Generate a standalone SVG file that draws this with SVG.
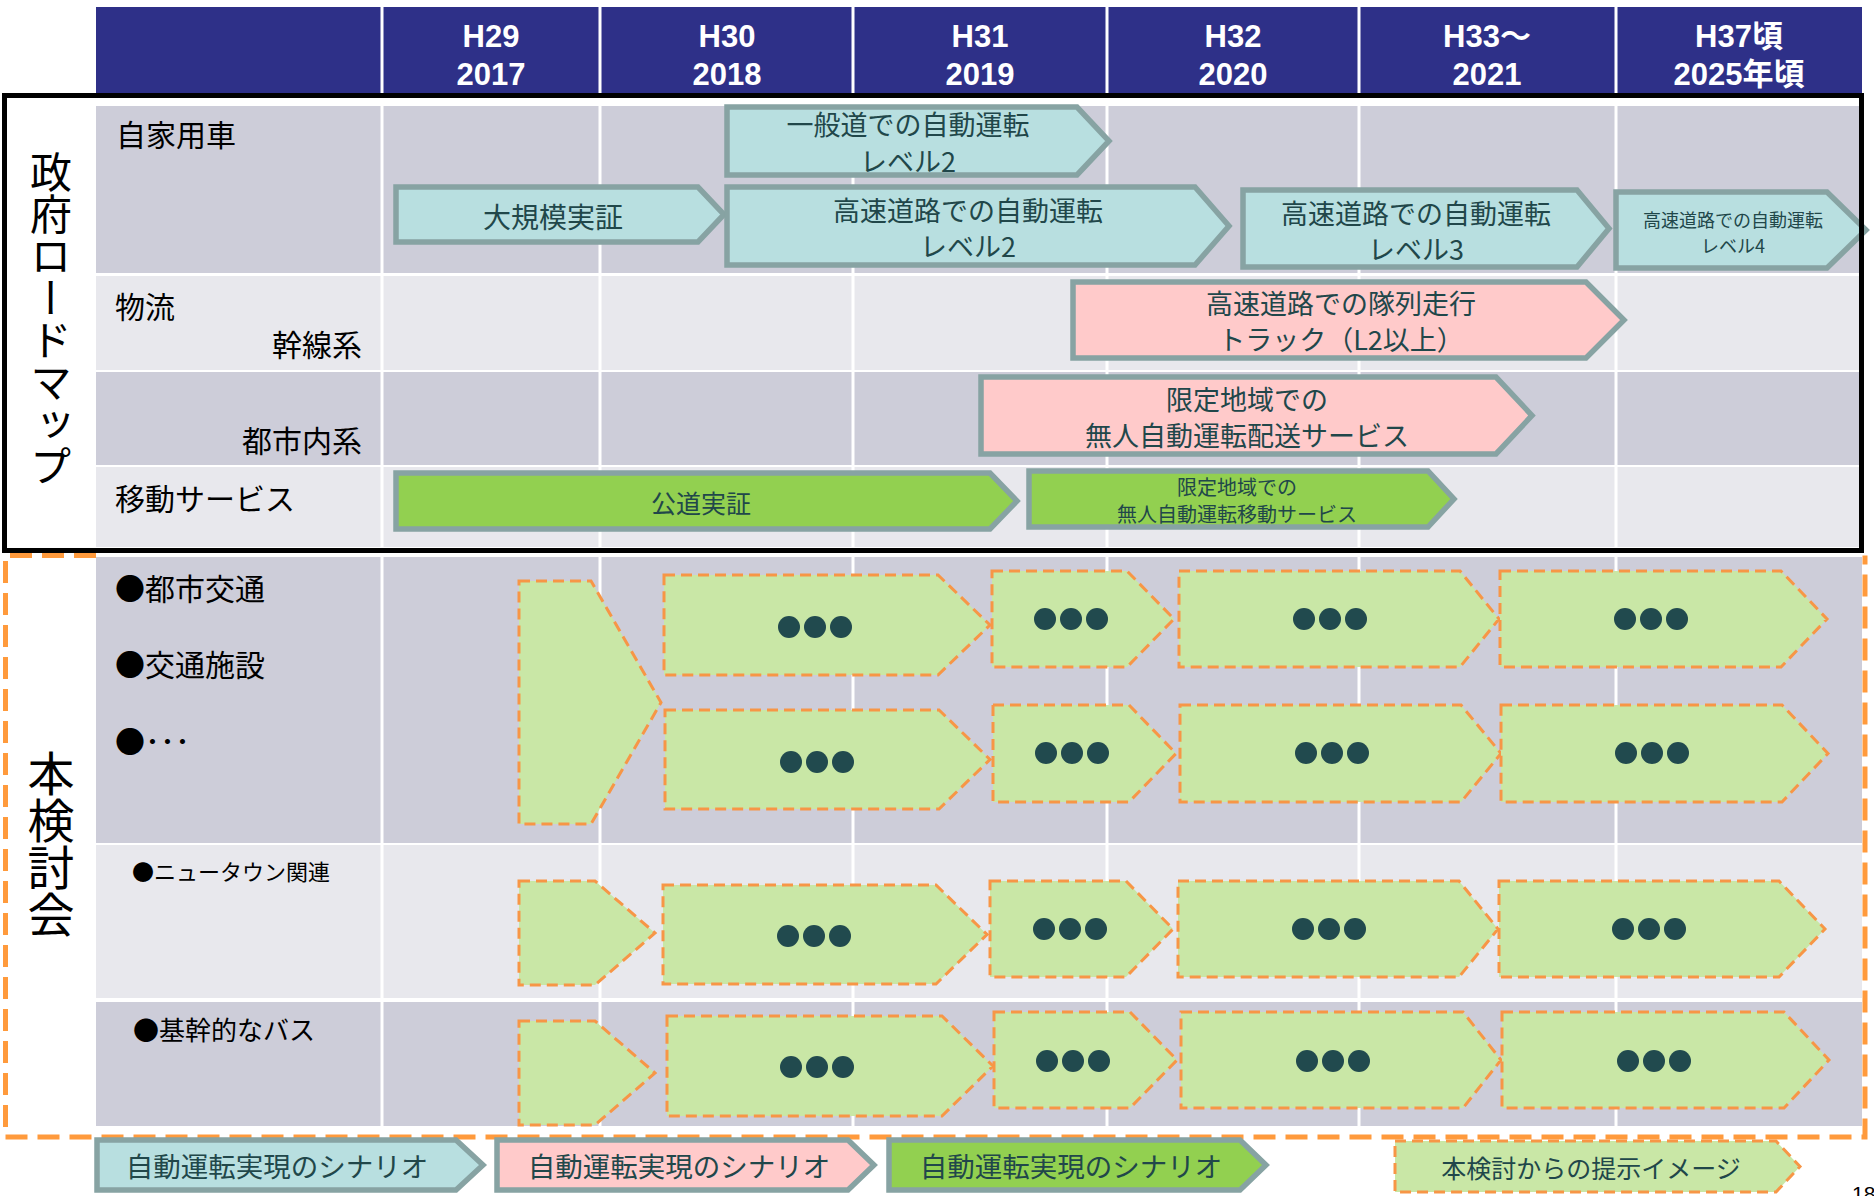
<svg xmlns="http://www.w3.org/2000/svg" width="1874" height="1196" viewBox="0 0 1874 1196">
<style>
.hdr{fill:#2e3088}
.dk{fill:#cdcdd9}
.lt{fill:#e8e8ed}
.vl{stroke:#ffffff;stroke-width:3}
.ht{font-family:"Liberation Sans","Noto Sans CJK JP",sans-serif;font-weight:bold;font-size:31px;fill:#ffffff;text-anchor:middle}
.lbl{font-family:"Noto Sans CJK JP",sans-serif;font-size:30px;fill:#000000;dominant-baseline:central}
.vt{font-family:"Noto Sans CJK JP",sans-serif;fill:#000000;writing-mode:vertical-rl;text-orientation:upright}
.blue{fill:#b8dfe0;stroke:#87a3a3;stroke-width:5.5}
.pink{fill:#ffcaca;stroke:#87a3a3;stroke-width:5.5}
.green{fill:#92d050;stroke:#87a3a3;stroke-width:5.5}
.prop{fill:#c9e7a6;stroke:#f79646;stroke-width:3;stroke-dasharray:11 6}
.at{font-family:"Noto Sans CJK JP",sans-serif;font-size:27px;fill:#21474a;text-anchor:middle;dominant-baseline:central}
.dot{fill:#214a4e}
</style>

<g id="grid">
<rect class="hdr" x="96" y="7" width="1766" height="86"/>
<rect class="dk" x="96" y="106" width="1766" height="167"/>
<rect class="lt" x="96" y="276" width="1766" height="94"/>
<rect class="dk" x="96" y="372" width="1766" height="93"/>
<rect class="lt" x="96" y="467" width="1766" height="80"/>
<rect class="dk" x="96" y="557" width="1766" height="286"/>
<rect class="lt" x="96" y="845" width="1766" height="153"/>
<rect class="dk" x="96" y="1002" width="1766" height="124"/>
<line class="vl" x1="382" y1="7" x2="382" y2="1126"/>
<line class="vl" x1="600" y1="7" x2="600" y2="1126"/>
<line class="vl" x1="853" y1="7" x2="853" y2="1126"/>
<line class="vl" x1="1107" y1="7" x2="1107" y2="1126"/>
<line class="vl" x1="1359" y1="7" x2="1359" y2="1126"/>
<line class="vl" x1="1616" y1="7" x2="1616" y2="1126"/>
</g>

<g id="header-text">
<text class="ht" x="491" y="47">H29</text><text class="ht" x="491" y="85">2017</text>
<text class="ht" x="727" y="47">H30</text><text class="ht" x="727" y="85">2018</text>
<text class="ht" x="980" y="47">H31</text><text class="ht" x="980" y="85">2019</text>
<text class="ht" x="1233" y="47">H32</text><text class="ht" x="1233" y="85">2020</text>
<text class="ht" x="1487" y="47">H33〜</text><text class="ht" x="1487" y="85">2021</text>
<text class="ht" x="1739" y="47">H37頃</text><text class="ht" x="1739" y="85">2025年頃</text>
</g>

<g id="frames">
<path d="M96,555.5 H5.5 V1137 H1865 V555.5" fill="none" stroke="#ff9a3c" stroke-width="5" stroke-dasharray="22 10"/>
</g>

<g id="row-labels">
<text class="lbl" x="116" y="133">自家用車</text>
<text class="lbl" x="115" y="305">物流</text>
<text class="lbl" x="362" y="343" text-anchor="end">幹線系</text>
<text class="lbl" x="362" y="439" text-anchor="end">都市内系</text>
<text class="lbl" x="115" y="497">移動サービス</text>
<text class="lbl" x="115" y="587">●都市交通</text>
<text class="lbl" x="115" y="663">●交通施設</text>
<text class="lbl" x="115" y="740">●･･･</text>
<text class="lbl" x="132" y="870" style="font-size:22px">●ニュータウン関連</text>
<text class="lbl" x="133" y="1028" style="font-size:26px">●基幹的なバス</text>
<text class="vt" x="51" y="151" style="font-size:42px">政府ロードマップ</text>
<text class="vt" x="51" y="750" style="font-size:47px">本検討会</text>
</g>

<g id="roadmap">
<g id="n-ippan"><polygon class="blue" points="727,107 1077,107 1109,141 1077,175 727,175"/>
<text class="at" x="908" y="123">一般道での自動運転</text><text class="at" x="908" y="160">レベル2</text></g>
<g id="n-daikibo"><polygon class="blue" points="396,187 698,187 724,214.5 698,242 396,242"/>
<text class="at" x="553" y="216" style="font-size:28px">大規模実証</text></g>
<g id="n-kosoku2"><polygon class="blue" points="727,187 1195,187 1229,226 1195,265 727,265"/>
<text class="at" x="968" y="209">高速道路での自動運転</text><text class="at" x="968" y="245">レベル2</text></g>
<g id="n-kosoku3"><polygon class="blue" points="1243,190 1577,190 1609,228.5 1577,267 1243,267"/>
<text class="at" x="1416" y="212">高速道路での自動運転</text><text class="at" x="1416" y="248">レベル3</text></g>
<g id="n-kosoku4"><polygon class="blue" points="1616,192 1827,192 1866,230 1827,268 1616,268"/>
<text class="at" x="1733" y="219" style="font-size:18px">高速道路での自動運転</text><text class="at" x="1733" y="245" style="font-size:18px">レベル4</text></g>
<g id="n-tairetsu"><polygon class="pink" points="1073,282 1586,282 1624,320 1586,358 1073,358"/>
<text class="at" x="1341" y="302">高速道路での隊列走行</text><text class="at" x="1341" y="338">トラック（L2以上）</text></g>
<g id="n-haiso"><polygon class="pink" points="981,377 1496,377 1532,415.5 1496,454 981,454"/>
<text class="at" x="1247" y="398">限定地域での</text><text class="at" x="1247" y="434">無人自動運転配送サービス</text></g>
<g id="n-kodo"><polygon class="green" points="396,473 990,473 1017,501 990,529 396,529"/>
<text class="at" x="701" y="502" style="font-size:25px">公道実証</text></g>
<g id="n-ido"><polygon class="green" points="1029,471 1428,471 1454,499 1428,527 1029,527"/>
<text class="at" x="1237" y="486" style="font-size:20px">限定地域での</text><text class="at" x="1237" y="513" style="font-size:20px">無人自動運転移動サービス</text></g>
</g>

<rect x="4.5" y="95.5" width="1857" height="455" fill="none" stroke="#000000" stroke-width="5"/>

<g id="proposal">
<g id="p-big"><polygon class="prop" points="519,581 591,581 661,702.5 591,824 519,824"/></g>
<g id="p-a1"><polygon class="prop" points="664,575 938,575 990,625 938,675 664,675"/><circle class="dot" cx="789" cy="627" r="11"/><circle class="dot" cx="815" cy="627" r="11"/><circle class="dot" cx="841" cy="627" r="11"/></g>
<g id="p-a2"><polygon class="prop" points="992,571 1127,571 1174,619 1127,667 992,667"/><circle class="dot" cx="1045" cy="619" r="11"/><circle class="dot" cx="1071" cy="619" r="11"/><circle class="dot" cx="1097" cy="619" r="11"/></g>
<g id="p-a3"><polygon class="prop" points="1179,571 1460,571 1499,619 1460,667 1179,667"/><circle class="dot" cx="1304" cy="619" r="11"/><circle class="dot" cx="1330" cy="619" r="11"/><circle class="dot" cx="1356" cy="619" r="11"/></g>
<g id="p-a4"><polygon class="prop" points="1500,571 1781,571 1827,619 1781,667 1500,667"/><circle class="dot" cx="1625" cy="619" r="11"/><circle class="dot" cx="1651" cy="619" r="11"/><circle class="dot" cx="1677" cy="619" r="11"/></g>
<g id="p-b1"><polygon class="prop" points="665,710 939,710 990,759.5 939,809 665,809"/><circle class="dot" cx="791" cy="762" r="11"/><circle class="dot" cx="817" cy="762" r="11"/><circle class="dot" cx="843" cy="762" r="11"/></g>
<g id="p-b2"><polygon class="prop" points="993,705 1129,705 1176,753.5 1129,802 993,802"/><circle class="dot" cx="1046" cy="753" r="11"/><circle class="dot" cx="1072" cy="753" r="11"/><circle class="dot" cx="1098" cy="753" r="11"/></g>
<g id="p-b3"><polygon class="prop" points="1180,705 1461,705 1501,753.5 1461,802 1180,802"/><circle class="dot" cx="1306" cy="753" r="11"/><circle class="dot" cx="1332" cy="753" r="11"/><circle class="dot" cx="1358" cy="753" r="11"/></g>
<g id="p-b4"><polygon class="prop" points="1501,705 1782,705 1828,753.5 1782,802 1501,802"/><circle class="dot" cx="1626" cy="753" r="11"/><circle class="dot" cx="1652" cy="753" r="11"/><circle class="dot" cx="1678" cy="753" r="11"/></g>

<g id="p-nt0"><polygon class="prop" points="519,881 595,881 655,933 595,985 519,985"/></g>
<g id="p-c1"><polygon class="prop" points="663,885 936,885 987,934.5 936,984 663,984"/><circle class="dot" cx="788" cy="936" r="11"/><circle class="dot" cx="814" cy="936" r="11"/><circle class="dot" cx="840" cy="936" r="11"/></g>
<g id="p-c2"><polygon class="prop" points="990,881 1126,881 1173,929 1126,977 990,977"/><circle class="dot" cx="1044" cy="929" r="11"/><circle class="dot" cx="1070" cy="929" r="11"/><circle class="dot" cx="1096" cy="929" r="11"/></g>
<g id="p-c3"><polygon class="prop" points="1178,881 1459,881 1498,929 1459,977 1178,977"/><circle class="dot" cx="1303" cy="929" r="11"/><circle class="dot" cx="1329" cy="929" r="11"/><circle class="dot" cx="1355" cy="929" r="11"/></g>
<g id="p-c4"><polygon class="prop" points="1499,881 1779,881 1825,929 1779,977 1499,977"/><circle class="dot" cx="1623" cy="929" r="11"/><circle class="dot" cx="1649" cy="929" r="11"/><circle class="dot" cx="1675" cy="929" r="11"/></g>

<g id="p-bus0"><polygon class="prop" points="519,1021 595,1021 655,1073 595,1125 519,1125"/></g>
<g id="p-d1"><polygon class="prop" points="667,1016 942,1016 993,1066 942,1116 667,1116"/><circle class="dot" cx="791" cy="1067" r="11"/><circle class="dot" cx="817" cy="1067" r="11"/><circle class="dot" cx="843" cy="1067" r="11"/></g>
<g id="p-d2"><polygon class="prop" points="994,1012 1130,1012 1177,1060 1130,1108 994,1108"/><circle class="dot" cx="1047" cy="1061" r="11"/><circle class="dot" cx="1073" cy="1061" r="11"/><circle class="dot" cx="1099" cy="1061" r="11"/></g>
<g id="p-d3"><polygon class="prop" points="1181,1012 1463,1012 1501,1060 1463,1108 1181,1108"/><circle class="dot" cx="1307" cy="1061" r="11"/><circle class="dot" cx="1333" cy="1061" r="11"/><circle class="dot" cx="1359" cy="1061" r="11"/></g>
<g id="p-d4"><polygon class="prop" points="1502,1012 1784,1012 1829,1060 1784,1108 1502,1108"/><circle class="dot" cx="1628" cy="1061" r="11"/><circle class="dot" cx="1654" cy="1061" r="11"/><circle class="dot" cx="1680" cy="1061" r="11"/></g>
</g>

<g id="legend">
<g id="lg-blue"><polygon class="blue" points="97,1140 456,1140 483,1165 456,1190 97,1190"/><text class="at" x="277" y="1165" style="font-size:27.5px">自動運転実現のシナリオ</text></g>
<g id="lg-pink"><polygon class="pink" points="497,1140 848,1140 874,1165 848,1190 497,1190"/><text class="at" x="679" y="1165" style="font-size:27.5px">自動運転実現のシナリオ</text></g>
<g id="lg-green"><polygon class="green" points="889,1140 1240,1140 1266,1165 1240,1190 889,1190"/><text class="at" x="1071" y="1165" style="font-size:27.5px">自動運転実現のシナリオ</text></g>
<g id="lg-prop"><polygon class="prop" points="1395,1141 1776,1141 1800,1166.5 1776,1192 1395,1192"/><text class="at" x="1591" y="1167" style="font-size:25px">本検討からの提示イメージ</text></g>
</g>

<text x="1852" y="1201" style="font-family:'Liberation Sans',sans-serif;font-size:21px;fill:#000000">18</text>
</svg>
